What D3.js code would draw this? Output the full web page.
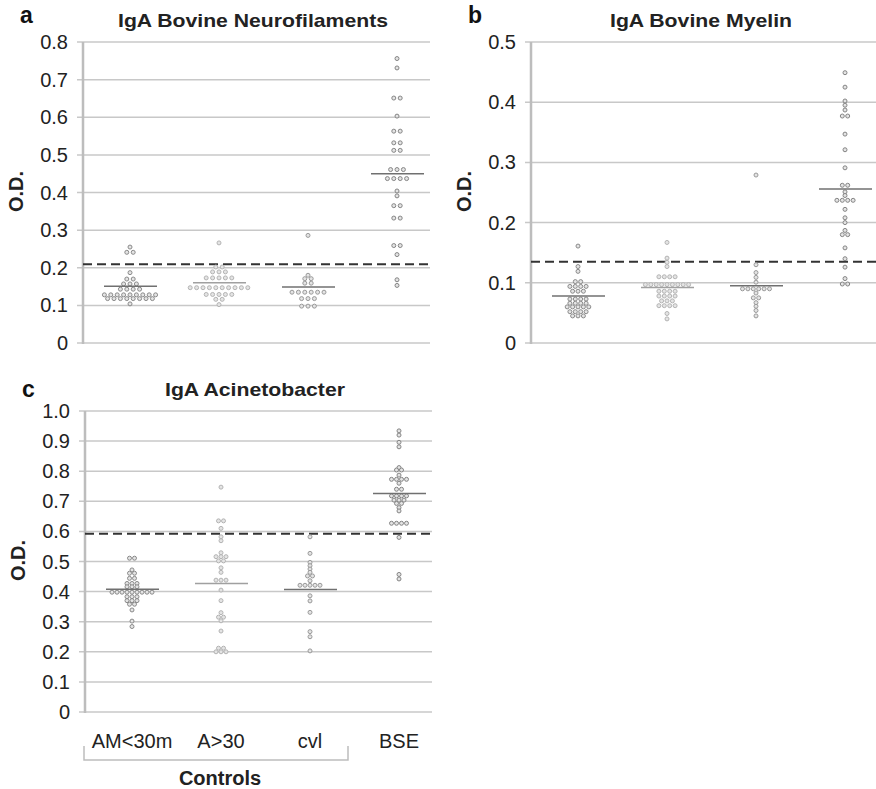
<!DOCTYPE html>
<html>
<head>
<meta charset="utf-8">
<script src="https://cdn.jsdelivr.net/npm/d3@7"></script>
<style>
  body { margin: 0; background: #fff; }
  text { font-family: "Liberation Sans", Arial, sans-serif; }
</style>
</head>
<body>
<script>
var width = 876,
    height = 789;

var categories = ["AM<30m", "A>30", "cvl", "BSE"];

// panel a: IgA Bovine Neurofilaments
var nfAM = [0.255, 0.241, 0.241, 0.187, 0.170, 0.170, 0.157, 0.157, 0.157,
  0.143, 0.143, 0.143, 0.143, 0.128, 0.128, 0.128, 0.128, 0.128, 0.128, 0.128, 0.128, 0.128,
  0.118, 0.118, 0.118, 0.118, 0.118, 0.118, 0.118, 0.118, 0.104];
var nfA30 = [0.266, 0.202, 0.202, 0.189, 0.189, 0.189, 0.173, 0.173, 0.173, 0.173, 0.173,
  0.147, 0.147, 0.147, 0.147, 0.147, 0.147, 0.147, 0.147, 0.147, 0.147,
  0.129, 0.129, 0.129, 0.129, 0.129, 0.116, 0.116, 0.102];
var nfCvl = [0.286, 0.180, 0.171, 0.171, 0.159, 0.159, 0.135, 0.135, 0.135, 0.135, 0.135, 0.135,
  0.118, 0.118, 0.118, 0.098, 0.098, 0.098];
var nfBSE = [0.756, 0.731, 0.651, 0.651, 0.603, 0.563, 0.563, 0.532, 0.532, 0.512, 0.512,
  0.461, 0.461, 0.461, 0.437, 0.437, 0.437, 0.437, 0.404, 0.391, 0.365, 0.365,
  0.332, 0.332, 0.259, 0.259, 0.235, 0.168, 0.153];
var nfMeans = [0.151, 0.160, 0.149, 0.450];
var nfCutoff = 0.209;

// panel b: IgA Bovine Myelin
var myAM = [0.161, 0.127, 0.119, 0.102, 0.102, 0.094, 0.094, 0.094, 0.094, 0.086, 0.086, 0.086,
  0.073, 0.073, 0.073, 0.073, 0.066, 0.066, 0.066, 0.066, 0.060, 0.060, 0.060, 0.060, 0.060,
  0.052, 0.052, 0.052, 0.052, 0.045, 0.045, 0.045];
var myA30 = [0.167, 0.141, 0.134, 0.127, 0.110, 0.110, 0.110, 0.110,
  0.097, 0.097, 0.097, 0.097, 0.097, 0.097, 0.097, 0.097, 0.097,
  0.086, 0.086, 0.086, 0.086, 0.078, 0.078, 0.078, 0.078, 0.070, 0.070, 0.070,
  0.062, 0.062, 0.062, 0.062, 0.049, 0.040];
var myCvl = [0.279, 0.130, 0.117, 0.109, 0.101, 0.090, 0.090, 0.090, 0.090, 0.090, 0.090,
  0.083, 0.075, 0.075, 0.067, 0.061, 0.054, 0.045];
var myBSE = [0.449, 0.425, 0.402, 0.395, 0.387, 0.377, 0.377, 0.347, 0.321, 0.291, 0.262, 0.262,
  0.251, 0.245, 0.237, 0.237, 0.237, 0.237, 0.222, 0.208, 0.200, 0.187, 0.180, 0.180,
  0.158, 0.140, 0.126, 0.107, 0.098, 0.098];
var myMeans = [0.078, 0.092, 0.095, 0.256];
var myCutoff = 0.135;

// panel c: IgA Acinetobacter
var acAM = [0.511, 0.511, 0.472, 0.461, 0.461, 0.444, 0.444, 0.427, 0.427, 0.427,
  0.416, 0.416, 0.416, 0.398, 0.398, 0.398, 0.398, 0.398, 0.398, 0.398, 0.398, 0.398,
  0.383, 0.383, 0.383, 0.370, 0.370, 0.370, 0.358, 0.358, 0.339, 0.302, 0.284];
var acA30 = [0.747, 0.635, 0.635, 0.610, 0.582, 0.569, 0.529, 0.516, 0.516, 0.516, 0.502, 0.502,
  0.479, 0.464, 0.438, 0.438, 0.438, 0.405, 0.370, 0.330, 0.315, 0.315, 0.303, 0.269,
  0.212, 0.212, 0.200, 0.200, 0.200];
var acCvl = [0.582, 0.527, 0.497, 0.486, 0.475, 0.464, 0.452, 0.452, 0.436,
  0.421, 0.421, 0.421, 0.421, 0.421, 0.386, 0.369, 0.331, 0.267, 0.250, 0.203];
var acBSE = [0.934, 0.920, 0.896, 0.881, 0.812, 0.804, 0.804, 0.787, 0.773, 0.773, 0.773, 0.773,
  0.760, 0.740, 0.740, 0.718, 0.718, 0.718, 0.718, 0.704, 0.704, 0.704, 0.693, 0.693,
  0.679, 0.668, 0.627, 0.627, 0.627, 0.627, 0.580, 0.457, 0.442];
var acMeans = [0.408, 0.427, 0.407, 0.726];
var acCutoff = 0.592;

var fmt = function(d) { return d === 0 ? "0" : d3.format(".1f")(d); };

var panels = [
  { letter: "a", title: "IgA Bovine Neurofilaments", titleW: 270, letterDy: -19, gap: 6.4,
    x: 83, top: 42, bottom: 343, max: 0.8, ticks: d3.range(0, 0.81, 0.1),
    series: [nfAM, nfA30, nfCvl, nfBSE], means: nfMeans, cutoff: nfCutoff },
  { letter: "b", title: "IgA Bovine Myelin", titleW: 182, letterDy: -19, gap: 5.4,
    x: 531, top: 42, bottom: 343, max: 0.5, ticks: d3.range(0, 0.51, 0.1),
    series: [myAM, myA30, myCvl, myBSE], means: myMeans, cutoff: myCutoff },
  { letter: "c", title: "IgA Acinetobacter", titleW: 180, letterDy: -14, gap: 5.0,
    x: 85, top: 411, bottom: 712, max: 1.0, ticks: d3.range(0, 1.01, 0.1),
    series: [acAM, acA30, acCvl, acBSE], means: acMeans, cutoff: acCutoff, labels: true }
];

var dotStroke = ["#8a8a8a", "#b4b4b4", "#9a9a9a", "#858585"];
var plotW = 347, dotR = 2;

var svg = d3.select("body").append("svg")
    .attr("width", width)
    .attr("height", height);

panels.forEach(function(p) {
  var g = svg.append("g");
  var y = d3.scaleLinear().domain([0, p.max]).range([p.bottom, p.top]);
  var x = d3.scalePoint().domain(categories).range([p.x + 47, p.x + 47 + 267]);

  // gridlines + ticks
  g.selectAll("line.grid")
    .data(p.ticks)
    .enter().append("line")
    .attr("x1", p.x - 6)
    .attr("x2", p.x + plotW)
    .attr("y1", function(d) { return y(d); })
    .attr("y2", function(d) { return y(d); })
    .attr("stroke", "#c8c8c8")
    .attr("stroke-width", 1.5);

  g.append("line")
    .attr("x1", p.x).attr("x2", p.x)
    .attr("y1", p.top).attr("y2", p.bottom + 1)
    .attr("stroke", "#bdbdbd")
    .attr("stroke-width", 2.5);

  g.selectAll("text.tick")
    .data(p.ticks)
    .enter().append("text")
    .attr("x", p.x - 15)
    .attr("y", function(d) { return y(d); })
    .attr("dy", "0.35em")
    .attr("text-anchor", "end")
    .attr("font-size", 20)
    .attr("fill", "#222")
    .text(fmt);

  g.append("text")
    .attr("transform", "translate(" + (p.x - 60) + "," + ((p.top + p.bottom) / 2 - 1) + ") rotate(-90)")
    .attr("text-anchor", "middle")
    .attr("font-size", 20)
    .attr("font-weight", "bold")
    .attr("fill", "#222")
    .text("O.D.");

  g.append("text")
    .attr("x", p.x + 170 - p.titleW / 2)
    .attr("y", p.top - 15)
    .attr("font-size", 19)
    .attr("font-weight", "bold")
    .attr("fill", "#222")
    .attr("textLength", p.titleW)
    .attr("lengthAdjust", "spacingAndGlyphs")
    .text(p.title);

  g.append("text")
    .attr("x", p.x - 63)
    .attr("y", p.top + p.letterDy)
    .attr("font-size", 23)
    .attr("font-weight", "bold")
    .attr("fill", "#111")
    .text(p.letter);

  // cutoff
  g.append("line")
    .attr("x1", p.x).attr("x2", p.x + plotW)
    .attr("y1", y(p.cutoff)).attr("y2", y(p.cutoff))
    .attr("stroke", "#333")
    .attr("stroke-width", 2)
    .attr("stroke-dasharray", "9,5");

  // dots, rows of equal values spread symmetrically
  p.series.forEach(function(vals, i) {
    var rows = d3.group(vals, function(v) { return v; });
    var pts = [];
    rows.forEach(function(list, v) {
      list.forEach(function(_, k) {
        pts.push({ v: v, dx: (k - (list.length - 1) / 2) * p.gap });
      });
    });
    g.selectAll(null)
      .data(pts)
      .enter().append("circle")
      .attr("cx", function(d) { return x(categories[i]) + d.dx; })
      .attr("cy", function(d) { return y(d.v); })
      .attr("r", dotR)
      .attr("fill", "#e4e4e4")
      .attr("stroke", dotStroke[i])
      .attr("stroke-width", 1);
  });

  // means
  g.selectAll("line.mean")
    .data(p.means)
    .enter().append("line")
    .attr("x1", function(d, i) { return x(categories[i]) - 26; })
    .attr("x2", function(d, i) { return x(categories[i]) + 27; })
    .attr("y1", function(d) { return y(d); })
    .attr("y2", function(d) { return y(d); })
    .attr("stroke", function(d, i) { return i === 1 ? "#a0a0a0" : "#707070"; })
    .attr("stroke-width", 1.5);

  if (p.labels) {
    g.selectAll("text.cat")
      .data(categories)
      .enter().append("text")
      .attr("x", function(d) { return x(d); })
      .attr("y", p.bottom + 36)
      .attr("text-anchor", "middle")
      .attr("font-size", 20)
      .attr("fill", "#222")
      .text(function(d) { return d; });

    g.append("path")
      .attr("d", "M" + (p.x - 1) + "," + (p.bottom + 34) + "V" + (p.bottom + 48) +
        "H" + (p.x + 263) + "V" + (p.bottom + 34))
      .attr("fill", "none")
      .attr("stroke", "#bdbdbd")
      .attr("stroke-width", 1.5);

    g.append("text")
      .attr("x", (x(categories[0]) + x(categories[2])) / 2 - 1)
      .attr("y", p.bottom + 73)
      .attr("text-anchor", "middle")
      .attr("font-size", 20)
      .attr("font-weight", "bold")
      .attr("fill", "#222")
      .text("Controls");
  }
});
</script>
</body>
</html>
